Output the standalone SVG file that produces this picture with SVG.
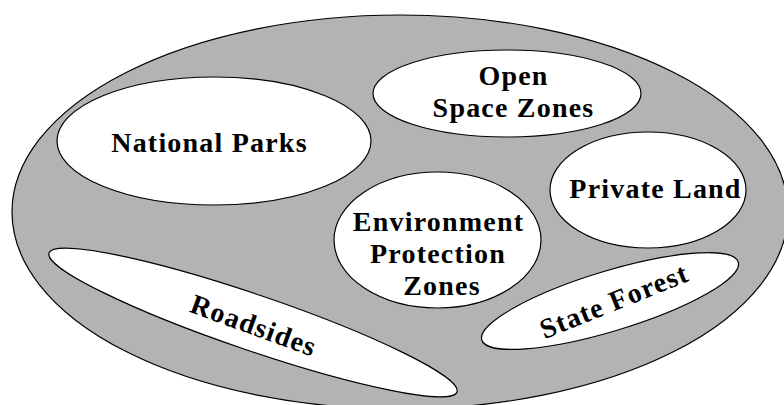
<svg xmlns="http://www.w3.org/2000/svg" width="784" height="405" viewBox="0 0 784 405">
<style>
.region{fill:#b3b3b3;stroke:#000;stroke-width:1.2}
.zone{fill:#fff;stroke:#000;stroke-width:1.2}
.lbl{font-family:"Liberation Serif","Times New Roman",serif;font-weight:bold;font-size:28px;letter-spacing:1.2px;fill:#000;text-anchor:middle}
</style>
<rect width="784" height="405" fill="#fff"/>
<g id="landscape">
<ellipse class="region" cx="400" cy="212" rx="388" ry="197"/>
</g>
<g id="national-parks">
<ellipse class="zone" cx="214" cy="141" rx="157" ry="64"/>
<text class="lbl" x="209.5" y="152">National Parks</text>
</g>
<g id="open-space-zones">
<ellipse class="zone" cx="507" cy="93.5" rx="134" ry="43.5"/>
<text class="lbl" x="513.5" y="85">Open</text>
<text class="lbl" x="513.5" y="117">Space Zones</text>
</g>
<g id="private-land">
<ellipse class="zone" cx="648" cy="190" rx="98" ry="58"/>
<text class="lbl" x="655.5" y="198">Private Land</text>
</g>
<g id="environment-protection-zones">
<ellipse class="zone" cx="437.5" cy="240" rx="103.5" ry="68"/>
<text class="lbl" x="438.5" y="231">Environment</text>
<text class="lbl" x="438" y="263">Protection</text>
<text class="lbl" x="442" y="295">Zones</text>
</g>
<g id="roadsides">
<ellipse class="zone" cx="253" cy="322.5" rx="215.5" ry="28" transform="rotate(18.8 253 322.5)"/>
<text class="lbl" x="0.6" y="0" transform="translate(250 334) rotate(20)">Roadsides</text>
</g>
<g id="state-forest">
<ellipse class="zone" cx="610" cy="301" rx="134" ry="30" transform="rotate(-16.9 610 301)"/>
<text class="lbl" x="0.6" y="0" transform="translate(617 310) rotate(-22)">State Forest</text>
</g>
<g id="connectors"></g>
</svg>
